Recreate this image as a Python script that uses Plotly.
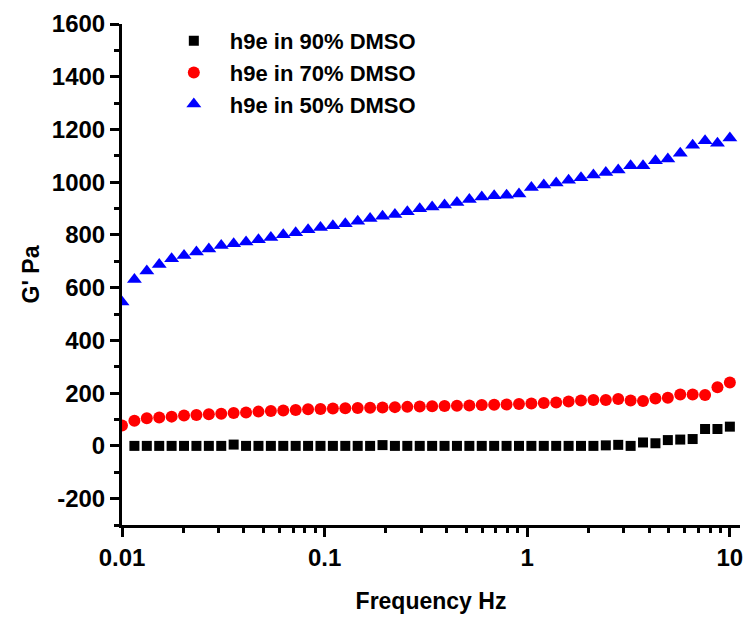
import plotly.graph_objects as go

freq = [0.01, 0.011514, 0.013257, 0.015264, 0.017575, 0.020236, 0.0233, 0.026827,
        0.030888, 0.035565, 0.040949, 0.047149, 0.054287, 0.062506, 0.071969, 0.082864,
        0.09541, 0.10985, 0.12649, 0.14563, 0.16768, 0.19307, 0.2223, 0.25595,
        0.29471, 0.33932, 0.39069, 0.44984, 0.51795, 0.59636, 0.68665, 0.7906,
        0.9103, 1.0481, 1.2068, 1.3895, 1.5999, 1.8421, 2.121, 2.4421,
        2.8118, 3.2375, 3.7276, 4.2919, 4.9417, 5.6898, 6.5513, 7.5431,
        8.6851, 10.0]

g_90 = [None, 0, 0, 0, 0, 0, 0, 0, 0, 5, 0, 0, 0, 0, 0, 0, 0, 0, 0, 0,
        0, 3, 0, 0, 0, 0, 0, 0, 0, 0, 0, 0, 0, 0, 0, 0, 0, 0, 0, 2,
        4, 0, 13, 10, 22, 24, 26, 64, 64, 73]

g_70 = [77, 95, 105, 108, 111, 115, 117, 120, 122, 125, 127, 130, 132, 134, 136, 139,
        140, 142, 143, 144, 145, 146, 147, 148, 149, 150, 151, 152, 153, 155, 156, 157,
        159, 161, 163, 165, 168, 172, 174, 174, 178, 172, 170, 180, 183, 195, 195, 193,
        222, 240]

g_50 = [546, 631, 663, 688, 710, 722, 735, 747, 760, 767, 773, 782, 790, 801, 808, 820,
        828, 835, 842, 852, 862, 871, 878, 888, 899, 906, 914, 923, 934, 944, 949, 951,
        955, 980, 989, 997, 1007, 1017, 1027, 1037, 1046, 1062, 1062, 1081, 1088, 1110,
        1140, 1157, 1148, 1168]

series_names = ["h9e in 90% DMSO", "h9e in 70% DMSO", "h9e in 50% DMSO"]

x_tickvals = [0.01, 0.1, 1, 10]
x_ticktext = ["0.01", "0.1", "1", "10"]
x_minor_vals = [0.02, 0.03, 0.04, 0.05, 0.06, 0.07, 0.08, 0.09,
                0.2, 0.3, 0.4, 0.5, 0.6, 0.7, 0.8, 0.9,
                2, 3, 4, 5, 6, 7, 8, 9]
y_tickvals = [-200, 0, 200, 400, 600, 800, 1000, 1200, 1400, 1600]
y_ticktext = ["-200", "0", "200", "400", "600", "800", "1000", "1200", "1400", "1600"]

FONT = "Liberation Sans, Arial, sans-serif"

fig = go.Figure()
fig.add_trace(go.Scatter(x=freq, y=g_90, mode="markers", name=series_names[0],
                         marker=dict(symbol="square", size=10, color="black")))
fig.add_trace(go.Scatter(x=freq, y=g_70, mode="markers", name=series_names[1],
                         marker=dict(symbol="circle", size=12, color="#ff0000")))
fig.add_trace(go.Scatter(x=freq, y=g_50, mode="markers", name=series_names[2],
                         marker=dict(symbol="triangle-up", size=13, color="#0000ff")))

axis_common = dict(showline=True, linewidth=3, linecolor="black", showgrid=False,
                   zeroline=False, ticks="outside", ticklen=9, tickwidth=2.5,
                   tickcolor="black",
                   tickfont=dict(family=FONT, size=24, color="black", weight="bold"))

fig.update_layout(
    width=750, height=618,
    margin=dict(l=122, r=7, t=24, b=90),
    paper_bgcolor="white", plot_bgcolor="white",
    xaxis=dict(type="log", range=[-2, 1.05], tickvals=x_tickvals, ticktext=x_ticktext,
               minor=dict(ticks="outside", ticklen=5, tickwidth=2.5, tickcolor="black",
                          tickvals=x_minor_vals, showgrid=False),
               title=dict(text="Frequency Hz", standoff=24,
                          font=dict(family=FONT, size=23, color="black", weight="bold")),
               **axis_common),
    yaxis=dict(range=[-300, 1600], tickvals=y_tickvals, ticktext=y_ticktext,
               minor=dict(ticks="outside", ticklen=5, tickwidth=2.5, tickcolor="black",
                          dtick=100, tick0=0, showgrid=False),
               title=dict(text="G' Pa", standoff=6,
                          font=dict(family=FONT, size=23, color="black", weight="bold")),
               **axis_common),
    legend=dict(x=(158 - 122) / 621, y=(528 - 20) / 504, xanchor="left", yanchor="top",
                bgcolor="rgba(0,0,0,0)",
                font=dict(family=FONT, size=22, color="black", weight="bold"),
                itemwidth=62),
    showlegend=True,
)

fig.write_html("out.html", config={"displayModeBar": False},
               post_script="document.body.style.margin='0';")
